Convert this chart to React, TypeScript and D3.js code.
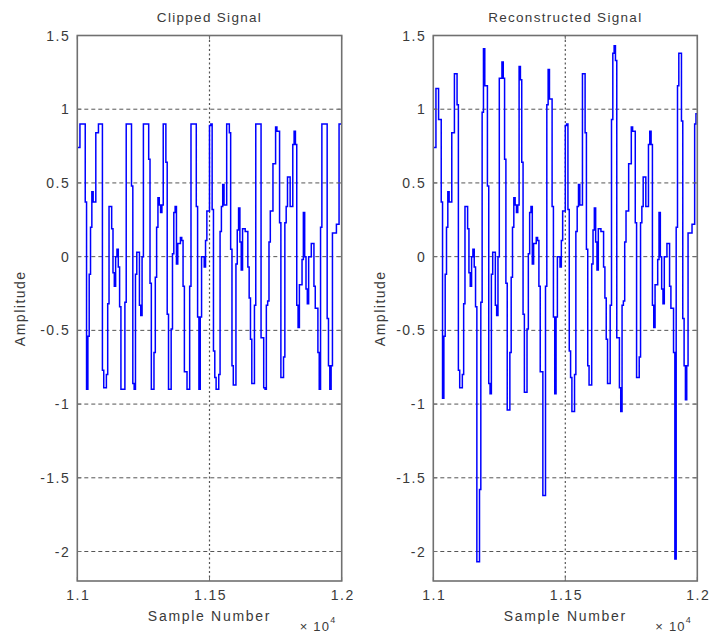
import React from "react";
import * as d3 from "d3";

// Each value is held for 5 samples, starting at sample 11000
const sampleStart = 11000;
const sampleStep = 5;

const clippedSignal = [
  0.74, 0.74, 0.9, 0.9, 0.9, 0.9, 0.37, -0.9, -0.54, -0.12,
  0.2, 0.44, 0.37, 0.37, 0.84, 0.84, 0.9, 0.9, 0.9, -0.77,
  -0.89, -0.89, -0.8, -0.32, 0.34, 0.34, 0.19, -0.11, -0.2, 0.0,
  0.05, -0.07, -0.34, -0.9, -0.9, -0.9, -0.31, 0.9, 0.9, 0.9,
  0.9, 0.48, -0.86, -0.9, -0.12, 0.03, 0.03, -0.33, -0.4, 0.0,
  0.9, 0.9, 0.9, 0.9, 0.66, -0.18, -0.9, -0.9, -0.65, -0.14,
  0.2, 0.4, 0.35, 0.3, 0.35, 0.9, 0.9, 0.64, -0.39, -0.9,
  -0.9, -0.49, 0.02, 0.3, 0.34, -0.05, 0.09, 0.09, 0.13, 0.11,
  -0.2, -0.78, -0.78, -0.9, -0.9, -0.2, 0.9, 0.9, 0.9, 0.9,
  0.34, -0.41, -0.9, -0.41, 0.0, 0.0, -0.07, 0.11, 0.31, 0.31,
  0.89, 0.9, 0.32, -0.64, -0.82, -0.9, -0.9, -0.8, 0.17, 0.34,
  0.49, 0.35, 0.35, 0.9, 0.9, 0.84, 0.05, -0.74, -0.87, -0.87,
  -0.05, 0.18, 0.33, 0.1, -0.09, 0.19, 0.19, 0.17, 0.17, -0.07,
  -0.28, -0.56, -0.86, -0.86, -0.33, 0.9, 0.9, 0.9, 0.9, -0.55,
  -0.55, -0.89, -0.9, -0.33, -0.3, 0.1, 0.31, 0.31, 0.63, 0.63,
  0.88, 0.85, 0.85, 0.23, -0.82, -0.82, -0.68, 0.23, 0.34, 0.54,
  0.54, 0.34, 0.34, 0.76, 0.85, 0.76, -0.33, -0.48, -0.19, -0.19,
  -0.02, 0.3, 0.0, -0.22, -0.32, 0.0, 0.0, 0.09, 0.09, -0.2,
  -0.35, -0.35, -0.65, -0.9, 0.2, 0.9, 0.9, 0.9, 0.9, -0.42,
  -0.74, -0.9, -0.74, 0.16, 0.16, 0.16, 0.22, 0.22, 0.9, 0.9,
];

const reconstructedSignal = [
  0.74, 0.74, 1.14, 1.14, 0.93, 0.93, 0.37, -0.96, -0.54, -0.12,
  0.2, 0.44, 0.37, 0.37, 0.84, 0.84, 1.24, 1.24, 1.03, -0.77,
  -0.89, -0.89, -0.8, -0.32, 0.34, 0.34, 0.19, -0.11, -0.2, 0.0,
  0.05, -0.07, -0.34, -2.07, -2.07, -1.58, -0.31, 0.98, 1.41, 1.16,
  1.16, 0.48, -0.86, -0.93, -0.12, 0.03, 0.03, -0.33, -0.4, 0.0,
  1.21, 1.21, 1.32, 1.21, 0.66, -0.18, -1.04, -1.04, -0.65, -0.14,
  0.2, 0.4, 0.35, 0.3, 0.35, 1.29, 1.2, 0.64, -0.39, -0.92,
  -0.92, -0.49, 0.02, 0.3, 0.34, -0.05, 0.09, 0.09, 0.13, 0.11,
  -0.2, -0.78, -0.78, -1.62, -1.62, -0.2, 1.03, 1.27, 1.07, 1.07,
  0.34, -0.41, -0.93, -0.41, 0.0, 0.0, -0.07, 0.11, 0.31, 0.31,
  0.89, 0.9, 0.32, -0.64, -0.82, -1.05, -1.05, -0.8, 0.17, 0.34,
  0.49, 0.35, 0.35, 1.24, 1.24, 0.84, 0.05, -0.74, -0.87, -0.87,
  -0.05, 0.18, 0.33, 0.1, -0.09, 0.19, 0.19, 0.17, 0.17, -0.07,
  -0.28, -0.56, -0.86, -0.86, -0.33, 0.93, 1.38, 1.43, 1.33, -0.55,
  -0.55, -0.89, -1.05, -0.33, -0.3, 0.1, 0.31, 0.31, 0.63, 0.63,
  0.88, 0.85, 0.85, 0.23, -0.82, -0.82, -0.68, 0.23, 0.34, 0.54,
  0.54, 0.34, 0.34, 0.76, 0.85, 0.76, -0.33, -0.48, -0.19, -0.19,
  -0.02, 0.3, 0.0, -0.22, -0.32, 0.0, 0.0, 0.09, 0.09, -0.2,
  -0.35, -0.35, -0.65, -2.05, 0.2, 1.16, 1.38, 1.38, 0.92, -0.42,
  -0.74, -0.97, -0.74, 0.16, 0.16, 0.16, 0.22, 0.22, 0.9, 0.97,
];

const yTicks = [1.5, 1, 0.5, 0, -0.5, -1, -1.5, -2];
const yGrid = [1, 0.5, 0, -0.5, -1, -1.5, -2];
const xTicks = [1.1, 1.15, 1.2];
const xGrid = [1.15];
const yDomain = [-2.2, 1.5];
const xDomain = [1.1, 1.2];

const panels = [
  { title: "Clipped Signal", values: clippedSignal, x0: 77.3, x1: 341.7, ylabX: 25 },
  { title: "Reconstructed Signal", values: reconstructedSignal, x0: 433.3, x1: 697.3, ylabX: 385 },
];

const TOP = 35.5;
const BOTTOM = 581;
const TEXT = "#3a3a3a";
const FRAME = "#707070";
const FONT = "Arial, 'Liberation Sans', Helvetica, sans-serif";

function Panel({ title, values, x0, x1, ylabX }: any) {
  const x = d3.scaleLinear().domain(xDomain).range([x0, x1]);
  const y = d3.scaleLinear().domain(yDomain).range([BOTTOM, TOP]);
  const pts: [number, number][] = values.map((v: number, i: number) => [
    (sampleStart + i * sampleStep) / 1e4,
    v,
  ]);
  pts.push([(sampleStart + values.length * sampleStep) / 1e4, values[values.length - 1]]);
  const line = d3
    .line<[number, number]>()
    .x((d) => x(d[0]))
    .y((d) => y(d[1]))
    .curve(d3.curveStepAfter);
  const cx = (x0 + x1) / 2;
  const cy = (TOP + BOTTOM) / 2;
  return (
    <g>
      <rect x={x0} y={TOP} width={x1 - x0} height={BOTTOM - TOP} fill="#fff" />
      {yGrid.map((t) => (
        <line key={"gy" + t} x1={x0} x2={x1} y1={y(t)} y2={y(t)} stroke="#555" strokeWidth={1} strokeDasharray="4,3" />
      ))}
      {xGrid.map((t) => (
        <line key={"gx" + t} x1={x(t)} x2={x(t)} y1={TOP} y2={BOTTOM} stroke="#555" strokeWidth={1.2} strokeDasharray="2,2.5" />
      ))}
      <path d={line(pts) || ""} fill="none" stroke="#0000ff" strokeWidth={1.5} />
      {yTicks.map((t) => (
        <g key={"ty" + t}>
          <line x1={x0} x2={x0 + 4} y1={y(t)} y2={y(t)} stroke={FRAME} />
          <line x1={x1} x2={x1 - 4} y1={y(t)} y2={y(t)} stroke={FRAME} />
        </g>
      ))}
      {xTicks.map((t) => (
        <g key={"tx" + t}>
          <line x1={x(t)} x2={x(t)} y1={BOTTOM} y2={BOTTOM - 4} stroke={FRAME} />
          <line x1={x(t)} x2={x(t)} y1={TOP} y2={TOP + 4} stroke={FRAME} />
        </g>
      ))}
      <rect x={x0} y={TOP} width={x1 - x0} height={BOTTOM - TOP} fill="none" stroke={FRAME} strokeWidth={1.6} />
      {yTicks.map((t) => (
        <text key={"ly" + t} x={x0 - 7} y={y(t)} dy="0.36em" textAnchor="end" fontSize={14} letterSpacing={1.5} fill={TEXT} fontFamily={FONT}>
          {String(t)}
        </text>
      ))}
      {xTicks.map((t) => (
        <text key={"lx" + t} x={x(t) + 1} y={600} textAnchor="middle" fontSize={14} letterSpacing={1.5} fill={TEXT} fontFamily={FONT}>
          {String(t)}
        </text>
      ))}
      <text x={cx} y={22} textAnchor="middle" fontSize={13.5} letterSpacing={1.3} fill={TEXT} fontFamily={FONT}>
        {title}
      </text>
      <text x={cx} y={621} textAnchor="middle" fontSize={14} letterSpacing={1.7} fill={TEXT} fontFamily={FONT}>
        Sample Number
      </text>
      <text x={x1 - 42} y={631} fontSize={13} letterSpacing={1.2} fill={TEXT} fontFamily={FONT}>
        × 10
        <tspan fontSize={9} dy={-8}>4</tspan>
      </text>
      <text
        transform={`translate(${ylabX},${cy}) rotate(-90)`}
        textAnchor="middle"
        fontSize={14}
        letterSpacing={1.5}
        fill={TEXT}
        fontFamily={FONT}
      >
        Amplitude
      </text>
    </g>
  );
}

export default function App() {
  return (
    <svg
      width={709}
      height={633}
      style={{ position: "absolute", left: 0, top: 0, background: "#fff" }}
    >
      <rect x={0} y={0} width={709} height={633} fill="#fff" />
      {panels.map((p) => (
        <Panel key={p.title} {...p} />
      ))}
    </svg>
  );
}
